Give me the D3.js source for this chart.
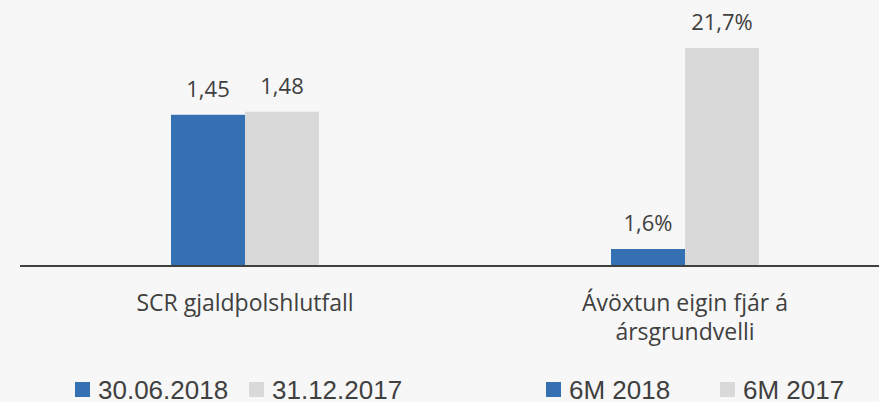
<!DOCTYPE html>
<html>
<head>
<meta charset="utf-8">
<script src="https://cdn.jsdelivr.net/npm/d3@7"></script>
<style>
  body { margin: 0; background: #f7f7f7; }
  svg { display: block; }
</style>
</head>
<body>
<div id="chart"></div>
<script>
// categories and values (each group has its own scale in the original)
const categories = ["SCR gjaldþolshlutfall", "Ávöxtun eigin fjár á ársgrundvelli"];
const scrValues = [1.45, 1.48];
const roeValues = [1.6, 21.7];
const scrLabels = ["1,45", "1,48"];
const roeLabels = ["1,6%", "21,7%"];
const scrLegend = ["30.06.2018", "31.12.2017"];
const roeLegend = ["6M 2018", "6M 2017"];

const width = 879, height = 402;
const colors = ["#3570b2", "#d9d9d9"];
const textColor = "#404040";
const baseY = 265;

const svg = d3.select("#chart")
  .append("svg")
    .attr("width", width)
    .attr("height", height);

svg.append("rect")
  .attr("width", width)
  .attr("height", height)
  .attr("fill", "#f7f7f7");

// x scales
const x0 = d3.scaleBand()
  .domain(categories)
  .range([25, 905]);

const barW = 74;
const x1 = d3.scaleBand()
  .domain([0, 1])
  .range([0, barW * 2]);

// separate y scales for the two groups
const yScr = d3.scaleLinear().domain([0, 2.5]).range([baseY, 6]);
const yRoe = d3.scaleLinear().domain([0, 25]).range([baseY, 15]);

const groups = [
  { cat: categories[0], values: scrValues, labels: scrLabels, y: yScr },
  { cat: categories[1], values: roeValues, labels: roeLabels, y: yRoe }
];

groups.forEach(g => {
  const gx = x0(g.cat) + (x0.bandwidth() - barW * 2) / 2;
  const items = g.values.map((v, i) => ({ v, i, label: g.labels[i] }));

  svg.append("g")
    .selectAll("rect")
    .data(items)
    .join("rect")
      .attr("x", d => gx + x1(d.i))
      .attr("y", d => g.y(d.v))
      .attr("width", x1.bandwidth())
      .attr("height", d => baseY - g.y(d.v))
      .attr("fill", d => colors[d.i]);

  svg.append("g")
    .selectAll("text")
    .data(items)
    .join("text")
      .attr("x", d => gx + x1(d.i) + x1.bandwidth() / 2)
      .attr("y", d => g.y(d.v) - 18)
      .attr("text-anchor", "middle")
      .style("font-family", "'Open Sans', sans-serif")
      .style("font-size", "22px")
      .style("fill", textColor)
      .text(d => d.label);
});

// axis line
svg.append("line")
  .attr("x1", 20)
  .attr("x2", width)
  .attr("y1", 266)
  .attr("y2", 266)
  .style("stroke", "#404040")
  .style("stroke-width", 2);

// category labels, wrapped
const catText = svg.append("g")
  .selectAll("text")
  .data(categories)
  .join("text")
    .attr("x", d => x0(d) + x0.bandwidth() / 2)
    .attr("y", 311)
    .attr("text-anchor", "middle")
    .style("font-family", "'Open Sans', sans-serif")
    .style("font-size", "23px")
    .style("fill", textColor);

catText.each(function(d) {
  const text = d3.select(this);
  const words = d.split(" ");
  let line = [];
  let tspan = text.append("tspan").attr("x", text.attr("x")).attr("dy", 0);
  words.forEach(w => {
    line.push(w);
    tspan.text(line.join(" "));
    if (tspan.node().getComputedTextLength() > 250 && line.length > 1) {
      line.pop();
      tspan.text(line.join(" "));
      line = [w];
      tspan = text.append("tspan").attr("x", text.attr("x")).attr("dy", 29).text(w);
    }
  });
});

// legends
const legendStep = 174;
const legends = [
  { start: 75, labels: scrLegend },
  { start: 546, labels: roeLegend }
];

legends.forEach(l => {
  const lg = svg.append("g")
    .selectAll("g")
    .data(l.labels)
    .join("g")
      .attr("transform", (d, i) => `translate(${l.start + i * legendStep},0)`);

  lg.append("rect")
    .attr("x", 0)
    .attr("y", 382)
    .attr("width", 15)
    .attr("height", 15)
    .attr("fill", (d, i) => colors[i]);

  lg.append("text")
    .attr("x", 23)
    .attr("y", 399)
    .style("font-family", "'Liberation Sans', Arial, sans-serif")
    .style("font-size", "26px")
    .style("fill", textColor)
    .text(d => d);
});
</script>
</body>
</html>
